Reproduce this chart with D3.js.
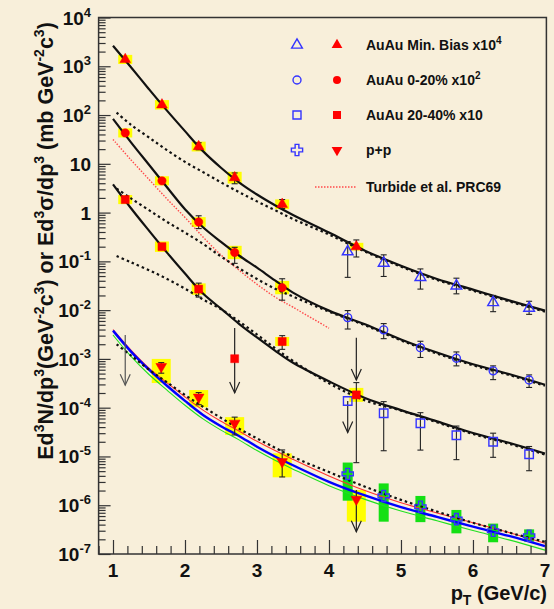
<!DOCTYPE html>
<html>
<head>
<meta charset="utf-8">
<script src="https://cdn.jsdelivr.net/npm/d3@7"></script>
<style>
body { margin: 0; background: #f8efda; }
svg text { font-family: "Liberation Sans", Arial, sans-serif; font-weight: bold; fill: #111; }
</style>
</head>
<body>
<svg id="chart" width="554" height="609"></svg>
<script>
// ---- data (pT in GeV/c, yields) ----
var ptLow = [1.17, 1.68, 2.19, 2.69, 3.35, 4.38];
var ptHigh = [4.26, 4.76, 5.27, 5.77, 6.28, 6.78];

// AuAu min. bias x10^4
var mbLow = [1380, 162, 22.6, 5.2, 1.48, 0.20];
var mbLowErr = [null, null, [19.4, 27.0], [3.9, 6.5], [1.21, 1.85], [0.123, 0.275]];
var mbLowSys = [0.24, 0.25, 0.26, 0.32, 0.26, 0.20];
var mbHigh = [0.158, 0.092, 0.047, 0.0314, 0.0143, 0.011];
var mbHighErr = [[0.047, 0.255], [0.049, 0.136], [0.027, 0.070], [0.0216, 0.0452], [0.0093, 0.020], [0.0082, 0.0152]];

// AuAu 0-20% x10^2
var c020Pt = [1.17, 1.68, 2.19, 2.69, 3.35];
var c020Low = [43, 4.48, 0.64, 0.152, 0.029];
var c020LowErr = [null, null, [0.47, 0.86], [0.091, 0.194], [0.016, 0.044]];
var c020LowSys = [0.24, 0.24, 0.26, 0.37, 0.37];
var c020High = [0.00703, 0.00394, 0.0017, 0.00103, 0.00057, 0.00037];
var c020HighErr = [[0.0041, 0.0098], [0.0026, 0.0053], [0.00107, 0.0023], [0.00072, 0.00139], [0.000376, 0.00072], [0.00026, 0.00047]];

// AuAu 20-40% x10
var c2040Low = [1.85, 0.20, 0.027, 0.00101, 0.00227, 0.000183];
var c2040LowErr = [null, null, [0.0185, 0.0358], null, [0.00157, 0.0030], [7.46e-6, 3.27e-4]];
var c2040LowSys = [0.24, 0.28, 0.31, 0, 0.24, 0.39];
var c2040High = [0.000137, 7.7e-5, 4.8e-5, 2.72e-5, 2.0e-5, 1.11e-5];
var c2040HighErr = [null, [1.31e-5, 1.33e-4], [1.35e-5, 7.9e-5], [8.6e-6, 4.2e-5], [9.6e-6, 3.0e-5], [5.1e-6, 1.6e-5]];

// p+p
var ppLowPt = [1.67, 2.19, 2.69, 3.35, 4.38];
var ppLow = [6.95e-4, 1.64e-4, 4.8e-5, 7.8e-6, 1.32e-6];
var ppLowErr = [[5.1e-4, 8.4e-4], [1.15e-4, 2.04e-4], [2.76e-5, 6.4e-5], [3.8e-6, 1.36e-5], null];
var ppLowSysLo = [3.2e-4, 1.02e-4, 2.76e-5, 3.74e-6, 4.6e-7];
var ppLowSysHi = [1.0e-3, 2.3e-4, 6.4e-5, 1.16e-5, 2.06e-6];
var ppHigh = [4.38e-6, 1.55e-6, 9.3e-7, 5.2e-7, 3.0e-7, 2.37e-7];
var ppHighSysLo = [1.24e-6, 4.6e-7, 4.5e-7, 2.65e-7, 1.74e-7, 1.8e-7];
var ppHighSysHi = [7.5e-6, 2.8e-6, 1.55e-6, 8.0e-7, 4.2e-7, 3.2e-7];

// upper limits (arrows): pT, start value, arrow tip value
var limitPt = [1.17, 2.69, 4.38, 4.26, 4.38];
var limitTop = [0.0031, 0.00432, 0.0027, 0.000137, 2.06e-6];
var limitTip = [0.00029, 0.000201, 0.00037, 3.1e-5, 2.86e-7];
var limitColor = ["#555", "#222", "#222", "#222", "#222"];

// curves, log10 of the yield
var gridPt = [1.0, 1.25, 1.5, 1.75, 2.0, 2.25, 2.5, 2.75, 3.0, 3.25, 3.5, 4.0, 4.5, 5.0, 5.5, 6.0, 6.5, 7.0];
var nloPt = [1.05, 1.25, 1.5, 1.75, 2.0, 2.25, 2.5, 2.75, 3.0, 3.25, 3.5, 4.0, 4.5, 5.0, 5.5, 6.0, 6.5, 7.0];
var fitMB = [3.42, 2.98, 2.53, 2.09, 1.67, 1.26, 0.92, 0.62, 0.37, 0.15, -0.05, -0.41, -0.78, -1.09, -1.36, -1.58, -1.80, -2.01];
var fit020 = [1.92, 1.44, 0.98, 0.52, 0.07, -0.30, -0.60, -0.88, -1.13, -1.39, -1.64, -2.01, -2.29, -2.60, -2.87, -3.11, -3.31, -3.53];
var fit2040 = [0.58, 0.09, -0.37, -0.82, -1.25, -1.66, -1.97, -2.28, -2.56, -2.83, -3.08, -3.46, -3.80, -4.05, -4.28, -4.52, -4.72, -4.94];
var nloMB = [2.05, 1.80, 1.54, 1.28, 1.04, 0.83, 0.62, 0.42, 0.23, 0.05, -0.13, -0.45, -0.80, -1.11, -1.38, -1.60, -1.82, -2.03];
var nlo020 = [0.49, 0.29, 0.05, -0.19, -0.41, -0.64, -0.90, -1.14, -1.36, -1.56, -1.72, -2.03, -2.31, -2.62, -2.89, -3.13, -3.33, -3.55];
var nlo2040 = [-0.89, -1.02, -1.18, -1.36, -1.56, -1.78, -1.98, -2.23, -2.50, -2.78, -3.04, -3.50, -3.85, -4.06, -4.30, -4.54, -4.74, -4.96];
var nloPP = [-2.70, -2.93, -3.22, -3.48, -3.74, -3.98, -4.21, -4.43, -4.63, -4.82, -5.01, -5.32, -5.62, -5.89, -6.13, -6.36, -6.56, -6.75];
var ppBlue = [-2.42, -2.85, -3.22, -3.55, -3.86, -4.15, -4.38, -4.58, -4.80, -5.00, -5.18, -5.52, -5.80, -6.04, -6.24, -6.44, -6.63, -6.84];
var ppGreen = [-2.51, -2.95, -3.32, -3.64, -3.95, -4.23, -4.46, -4.66, -4.88, -5.08, -5.26, -5.60, -5.88, -6.12, -6.32, -6.52, -6.71, -6.92];
var ppRed = [-2.40, -2.82, -3.19, -3.49, -3.78, -4.05, -4.28, -4.48, -4.69, -4.88, -5.06, -5.40, -5.70, -5.95, -6.16, -6.36, -6.56, -6.78];
var turbidePt = [1.0, 1.25, 1.5, 1.75, 2.0, 2.25, 2.5, 2.75, 3.0, 3.25, 3.5, 4.0];
var turbide = [1.50, 1.08, 0.68, 0.28, -0.10, -0.50, -0.87, -1.18, -1.47, -1.73, -1.94, -2.37];

var legendLabels = ["AuAu Min. Bias x10", "AuAu 0-20% x10", "AuAu 20-40% x10", "p+p", "Turbide et al. PRC69"];
var legendSup = ["4", "2", "", "", ""];

// ---- drawing ----
var svg = d3.select("#chart");
var x = d3.scaleLinear().domain([0.8, 7.02]).range([98.6, 546.4]);
var y = d3.scaleLog().domain([1e-7, 1e4]).range([554, 17.5]);

var blue = "#3434ff", red = "#ff0000", yellow = "#ffff00", green = "#14e014";

var line = d3.line()
    .x(function (d) { return x(d[0]); })
    .y(function (d) { return y(Math.pow(10, d[1])); })
    .curve(d3.curveCatmullRom);

function drawCurve(pts, logs, color, width, dash) {
    svg.append("path")
        .attr("d", line(d3.zip(pts, logs)))
        .attr("fill", "none")
        .attr("stroke", color)
        .attr("stroke-width", width)
        .attr("stroke-dasharray", dash || null);
}

function drawBoxes(pts, lo, hi, w, color) {
    pts.forEach(function (p, i) {
        if (lo[i] === hi[i]) return;
        svg.append("rect")
            .attr("x", x(p) - w / 2).attr("width", w)
            .attr("y", y(hi[i])).attr("height", y(lo[i]) - y(hi[i]))
            .attr("fill", color);
    });
}

function relBoxes(pts, vals, sys, w) {
    var lo = vals.map(function (v, i) { return v / (1 + sys[i]); });
    var hi = vals.map(function (v, i) { return v * (1 + sys[i]); });
    drawBoxes(pts, lo, hi, w, yellow);
}

function drawErrors(pts, errs) {
    pts.forEach(function (p, i) {
        var e = errs[i];
        if (!e) return;
        var g = svg.append("g").attr("stroke", "#222").attr("stroke-width", 1.1);
        g.append("line").attr("x1", x(p)).attr("x2", x(p)).attr("y1", y(e[0])).attr("y2", y(e[1]));
        [e[0], e[1]].forEach(function (v) {
            g.append("line").attr("x1", x(p) - 3).attr("x2", x(p) + 3).attr("y1", y(v)).attr("y2", y(v));
        });
    });
}

function drawMarkers(pts, vals, type, size, filled, color, rot) {
    var path = d3.symbol().type(type).size(size)();
    pts.forEach(function (p, i) {
        svg.append("path")
            .attr("d", path)
            .attr("transform", "translate(" + x(p) + "," + y(vals[i]) + ")" + (rot ? " rotate(180)" : ""))
            .attr("fill", filled ? color : "none")
            .attr("stroke", color)
            .attr("stroke-width", filled ? 0.5 : 1.4);
    });
}

// systematic boxes
relBoxes(ptLow, mbLow, mbLowSys, 14);
relBoxes(c020Pt, c020Low, c020LowSys, 14);
relBoxes(ptLow, c2040Low, c2040LowSys, 14);
drawBoxes(ppLowPt, ppLowSysLo, ppLowSysHi, 19, yellow);
drawBoxes(ptHigh, ppHighSysLo, ppHighSysHi, 10, green);

// theory / fit curves
drawCurve(turbidePt, turbide, "#ff4a4a", 1.4, "1.5,1.5");
drawCurve(nloPt, nloMB, "#111", 2.2, "2.5,3");
drawCurve(nloPt, nlo020, "#111", 2.2, "2.5,3");
drawCurve(nloPt, nlo2040, "#111", 2.2, "2.5,3");
drawCurve(gridPt, fitMB, "#111", 2.2);
drawCurve(gridPt, fit020, "#111", 2.2);
drawCurve(gridPt, fit2040, "#111", 2.2);
drawCurve(gridPt, ppRed, "#ff3030", 1.1);
drawCurve(gridPt, ppGreen, "#22e022", 1.1);
drawCurve(gridPt, ppBlue, "#0000ff", 2.4);
drawCurve(nloPt, nloPP, "#111", 2.2, "2.5,3");

// upper limit arrows
limitPt.forEach(function (p, i) {
    var g = svg.append("g").attr("stroke", limitColor[i]).attr("stroke-width", 1.2).attr("fill", "none");
    var xt = x(p), yb = y(limitTip[i]);
    g.append("line").attr("x1", xt).attr("x2", xt).attr("y1", y(limitTop[i])).attr("y2", yb);
    g.append("path").attr("d", "M" + (xt - 5) + "," + (yb - 11) + "L" + xt + "," + yb + "L" + (xt + 5) + "," + (yb - 11));
});

// error bars and markers
drawErrors(ptLow, mbLowErr);
drawErrors(ptHigh, mbHighErr);
drawErrors(c020Pt, c020LowErr);
drawErrors(ptHigh, c020HighErr);
drawErrors(ptLow, c2040LowErr);
drawErrors(ptHigh, c2040HighErr);
drawErrors(ppLowPt, ppLowErr);

drawMarkers(ptHigh, mbHigh, d3.symbolTriangle, 50, false, blue);
drawMarkers(ptHigh, c020High, d3.symbolCircle, 50, false, blue);
drawMarkers(ptHigh, c2040High, d3.symbolSquare, 72, false, blue);
drawMarkers(ptHigh, ppHigh, d3.symbolCross, 70, false, blue);
drawMarkers(ptLow, mbLow, d3.symbolTriangle, 50, true, red);
drawMarkers(c020Pt, c020Low, d3.symbolCircle, 55, true, red);
drawMarkers(ptLow, c2040Low, d3.symbolSquare, 64, true, red);
drawMarkers(ppLowPt, ppLow, d3.symbolTriangle, 50, true, red, true);

// axes
var yMajor = d3.range(-7, 5).map(function (e) { return Math.pow(10, e); });
var yMinor = [];
d3.range(-7, 4).forEach(function (e) {
    d3.range(2, 10).forEach(function (k) { yMinor.push(k * Math.pow(10, e)); });
});
var xMajor = d3.range(1, 8);
var xMinor = d3.range(4, 36).map(function (k) { return k / 5; }).filter(function (v) { return v % 1 !== 0; });

function styleAxis(g) {
    g.select(".domain").remove();
    g.selectAll(".tick line").attr("stroke", "#333").attr("stroke-width", 1.2);
}
svg.append("g").attr("transform", "translate(" + x.range()[0] + ",0)")
    .call(d3.axisLeft(y).tickValues(yMinor).tickSize(-7).tickFormat("")).call(styleAxis);
svg.append("g").attr("transform", "translate(" + x.range()[0] + ",0)")
    .call(d3.axisLeft(y).tickValues(yMajor).tickSize(-12).tickFormat("")).call(styleAxis);
svg.append("g").attr("transform", "translate(0," + y.range()[0] + ")")
    .call(d3.axisBottom(x).tickValues(xMinor).tickSize(-8).tickFormat("")).call(styleAxis);
svg.append("g").attr("transform", "translate(0," + y.range()[0] + ")")
    .call(d3.axisBottom(x).tickValues(xMajor).tickSize(-14).tickFormat("")).call(styleAxis);

// frame
svg.append("rect")
    .attr("x", x.range()[0]).attr("y", y.range()[1])
    .attr("width", x.range()[1] - x.range()[0]).attr("height", y.range()[0] - y.range()[1])
    .attr("fill", "none").attr("stroke", "#333").attr("stroke-width", 1.5);

// tick labels
yMajor.forEach(function (v) {
    var e = Math.round(Math.log10(v));
    var t = svg.append("text").attr("x", 91).attr("y", y(v) + 7)
        .attr("text-anchor", "end").style("font-size", "19px");
    if (e === 0) t.text("1");
    else if (e === 1) t.text("10");
    else {
        t.append("tspan").text("10");
        t.append("tspan").attr("dy", -8).style("font-size", "13px").text(e);
    }
});
xMajor.forEach(function (v) {
    svg.append("text").attr("x", x(v)).attr("y", 577)
        .attr("text-anchor", "middle").style("font-size", "19px").text(v);
});

// axis titles
var xt = svg.append("text").attr("x", 547).attr("y", 600).attr("text-anchor", "end").style("font-size", "20px");
xt.append("tspan").text("p");
xt.append("tspan").attr("dy", 5).style("font-size", "14px").text("T");
xt.append("tspan").attr("dy", -5).text(" (GeV/c)");

var yParts = [["Ed"], ["3", 1], ["N/dp"], ["3", 1], ["(GeV"], ["-2", 1], ["c"], ["3", 1], [") or Ed"], ["3", 1],
    ["\u03c3/dp"], ["3", 1], [" (mb GeV"], ["-2", 1], ["c"], ["3", 1], [")"]];
var yt = svg.append("text").attr("transform", "translate(53,241) rotate(-90)")
    .attr("text-anchor", "middle").style("font-size", "21.5px");
var up = false;
yParts.forEach(function (p) {
    var s = yt.append("tspan").text(p[0]);
    if (p[1]) { s.attr("dy", -9).style("font-size", "14px"); up = true; }
    else if (up) { s.attr("dy", 9); up = false; }
});

// legend
var legY = [45, 80, 115, 150, 187];
var legTypes = [d3.symbolTriangle, d3.symbolCircle, d3.symbolSquare, d3.symbolTriangle];
legendLabels.forEach(function (lab, i) {
    var t = svg.append("text").attr("x", 366).attr("y", legY[i] + 5).style("font-size", "14px");
    t.append("tspan").text(lab);
    if (legendSup[i]) t.append("tspan").attr("dy", -6).style("font-size", "10px").text(legendSup[i]);
    if (i < 4) {
        var openType = i === 3 ? d3.symbolCross : legTypes[i];
        svg.append("path").attr("d", d3.symbol().type(openType).size(i === 3 ? 70 : i === 2 ? 64 : 50)())
            .attr("transform", "translate(297," + legY[i] + ")")
            .attr("fill", "none").attr("stroke", blue).attr("stroke-width", 1.4);
        svg.append("path").attr("d", d3.symbol().type(legTypes[i]).size(i === 2 ? 64 : 50)())
            .attr("transform", "translate(337," + legY[i] + ")" + (i === 3 ? " rotate(180)" : ""))
            .attr("fill", red);
    }
});
svg.append("line").attr("x1", 315).attr("x2", 356).attr("y1", 187).attr("y2", 187)
    .attr("stroke", "#ff4a4a").attr("stroke-width", 1.4).attr("stroke-dasharray", "1.5,1.5");
</script>
</body>
</html>
